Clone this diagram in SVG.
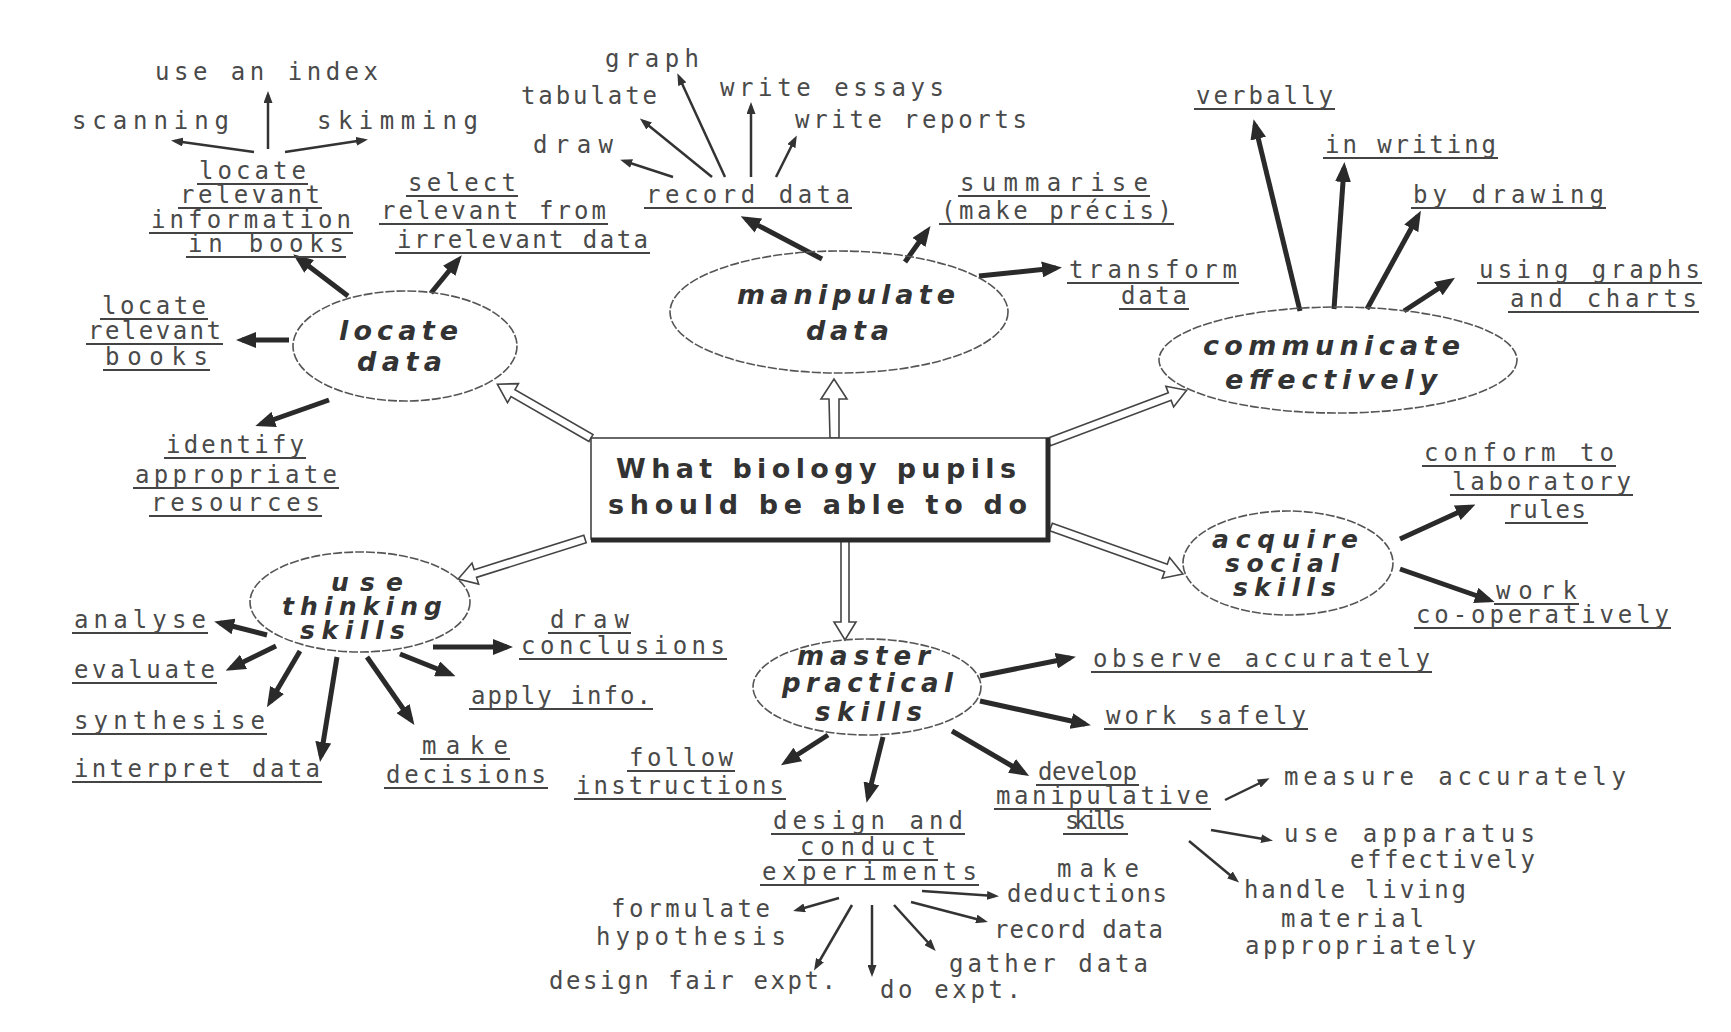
<svg xmlns="http://www.w3.org/2000/svg" width="1731" height="1032" viewBox="0 0 1731 1032">
<defs>
<style>
.l{font-family:"DejaVu Sans Mono","Liberation Mono",monospace;font-size:24px;fill:#4a4a4a;text-anchor:middle}
.e{font-family:"DejaVu Sans","Liberation Sans",sans-serif;font-size:27px;font-weight:bold;font-style:italic;fill:#333;text-anchor:middle}
.c{font-family:"DejaVu Sans","Liberation Sans",sans-serif;font-size:27px;font-weight:bold;fill:#333;text-anchor:middle}
.ell{fill:none;stroke:#555;stroke-width:1.6;stroke-dasharray:9 2}
.tk{stroke:#2a2a2a;stroke-width:5;fill:none;marker-end:url(#hb)}
.tn{stroke:#333;stroke-width:2.5;fill:none;marker-end:url(#ht)}
.ho{fill:#fff;stroke:#444;stroke-width:1.6}
.ul{stroke:#444;stroke-width:2;fill:none}
</style>
<marker id="hb" viewBox="0 0 20 16" markerWidth="20" markerHeight="16" refX="14" refY="8" orient="auto" markerUnits="userSpaceOnUse"><path d="M0,0 L20,8 L0,16 z" fill="#2a2a2a"/></marker>
<marker id="ht" viewBox="0 0 12 9" markerWidth="12" markerHeight="9" refX="8" refY="4.5" orient="auto" markerUnits="userSpaceOnUse"><path d="M0,0 L12,4.5 L0,9 z" fill="#333"/></marker>
</defs>
<rect width="1731" height="1032" fill="#fff"/>

<g id="connectors">
<polygon class="ho" points="0,-4 90,-4 90,-11 108,0 90,11 90,4 0,4" transform="translate(591,438) rotate(-150.1)"/>
<polygon class="ho" points="0,-4 39,-5 39,-13 59,0 39,13 39,5 0,5" transform="translate(834,438) rotate(-90)"/>
<polygon class="ho" points="0,-4 129,-4 129,-11 147,0 129,11 129,4 0,4" transform="translate(1049,442) rotate(-20.6)"/>
<polygon class="ho" points="0,-4 122,-4 122,-11 140,0 122,11 122,4 0,4" transform="translate(1051,527) rotate(19.6)"/>
<polygon class="ho" points="0,-4 83,-4 83,-11 101,0 83,11 83,4 0,4" transform="translate(845,539) rotate(90)"/>
<polygon class="ho" points="0,-4 115,-4 115,-11 133,0 115,11 115,4 0,4" transform="translate(585,539) rotate(162.5)"/>

<line class="tk" x1="348" y1="296" x2="298" y2="258"/>
<line class="tk" x1="431" y1="293" x2="458" y2="260"/>
<line class="tk" x1="289" y1="340" x2="242" y2="340"/>
<line class="tk" x1="329" y1="400" x2="261" y2="424"/>
<line class="tk" x1="822" y1="259" x2="746" y2="219"/>
<line class="tk" x1="905" y1="262" x2="927" y2="231"/>
<line class="tk" x1="979" y1="276" x2="1056" y2="268"/>
<line class="tk" x1="1300" y1="311" x2="1255" y2="125"/>
<line class="tk" x1="1334" y1="309" x2="1344" y2="168"/>
<line class="tk" x1="1367" y1="309" x2="1418" y2="216"/>
<line class="tk" x1="1404" y1="311" x2="1450" y2="281"/>
<line class="tk" x1="1400" y1="539" x2="1470" y2="507"/>
<line class="tk" x1="1400" y1="569" x2="1489" y2="600"/>
<line class="tk" x1="267" y1="635" x2="220" y2="623"/>
<line class="tk" x1="276" y1="646" x2="231" y2="668"/>
<line class="tk" x1="300" y1="651" x2="270" y2="702"/>
<line class="tk" x1="337" y1="657" x2="321" y2="756"/>
<line class="tk" x1="367" y1="657" x2="411" y2="720"/>
<line class="tk" x1="400" y1="654" x2="450" y2="674"/>
<line class="tk" x1="433" y1="647" x2="507" y2="647"/>
<line class="tk" x1="980" y1="676" x2="1070" y2="658"/>
<line class="tk" x1="980" y1="701" x2="1085" y2="724"/>
<line class="tk" x1="952" y1="731" x2="1024" y2="773"/>
<line class="tk" x1="883" y1="737" x2="868" y2="797"/>
<line class="tk" x1="828" y1="735" x2="786" y2="762"/>

<line class="tn" x1="268" y1="149" x2="268" y2="95"/>
<line class="tn" x1="254" y1="152" x2="175" y2="141"/>
<line class="tn" x1="285" y1="152" x2="364" y2="140"/>
<line class="tn" x1="673" y1="177" x2="624" y2="161"/>
<line class="tn" x1="712" y1="177" x2="643" y2="121"/>
<line class="tn" x1="725" y1="177" x2="679" y2="77"/>
<line class="tn" x1="751" y1="177" x2="751" y2="106"/>
<line class="tn" x1="776" y1="177" x2="795" y2="139"/>
<line class="tn" x1="1225" y1="800" x2="1266" y2="780"/>
<line class="tn" x1="1211" y1="830" x2="1269" y2="840"/>
<line class="tn" x1="1189" y1="841" x2="1236" y2="880"/>
<line class="tn" x1="839" y1="898" x2="797" y2="910"/>
<line class="tn" x1="852" y1="905" x2="816" y2="967"/>
<line class="tn" x1="872" y1="905" x2="872" y2="973"/>
<line class="tn" x1="894" y1="905" x2="933" y2="948"/>
<line class="tn" x1="911" y1="902" x2="984" y2="921"/>
<line class="tn" x1="922" y1="891" x2="995" y2="896"/>
</g>

<g id="center">
<rect x="591" y="438" width="456" height="101" fill="#fff" stroke="#444" stroke-width="1.6"/>
<line x1="1048" y1="438" x2="1048" y2="542" stroke="#2a2a2a" stroke-width="5"/>
<line x1="591" y1="540" x2="1050" y2="540" stroke="#2a2a2a" stroke-width="5"/>
<text class="c" x="816" y="478" textLength="400">What biology pupils</text>
<text class="c" x="817.5" y="514" textLength="419">should be able to do</text>
</g>

<g id="locate-data">
<ellipse class="ell" cx="405" cy="346" rx="112" ry="55"/>
<text class="e" x="398.5" y="340" textLength="119">locate</text>
<text class="e" x="399.5" y="371" textLength="85">data</text>
</g>
<g id="manipulate-data">
<ellipse class="ell" cx="839" cy="312" rx="169" ry="61"/>
<text class="e" x="846" y="304" textLength="218">manipulate</text>
<text class="e" x="847.5" y="340" textLength="83">data</text>
</g>
<g id="communicate">
<ellipse class="ell" cx="1338" cy="360" rx="179" ry="53"/>
<text class="e" x="1331.5" y="355" textLength="257">communicate</text>
<text class="e" x="1331" y="389" textLength="212">effectively</text>
</g>
<g id="acquire-social">
<ellipse class="ell" cx="1288" cy="563" rx="105" ry="52"/>
<text class="e" x="1285" y="548" textLength="146" style="font-size:25px">acquire</text>
<text class="e" x="1282" y="572" textLength="114" style="font-size:25px">social</text>
<text class="e" x="1284.5" y="596" textLength="103" style="font-size:25px">skills</text>
</g>
<g id="use-thinking">
<ellipse class="ell" cx="360" cy="602" rx="110" ry="50"/>
<text class="e" x="367" y="591" textLength="72" style="font-size:25px">use</text>
<text class="e" x="362" y="615" textLength="160" style="font-size:25px">thinking</text>
<text class="e" x="352.5" y="639" textLength="105" style="font-size:25px">skills</text>
</g>
<g id="master-practical">
<ellipse class="ell" cx="867" cy="687" rx="114" ry="48"/>
<text class="e" x="863.5" y="665" textLength="133" style="font-size:26px">master</text>
<text class="e" x="867.5" y="692" textLength="171" style="font-size:26px">practical</text>
<text class="e" x="868.5" y="721" textLength="107" style="font-size:26px">skills</text>
</g>

<g id="labels">
<path class="ul" d="M197,184H308 M178,208H322 M149,233H353 M186,257H346 M406,196H518 M379,224H608 M395,253H650 M100,319H208 M86,344H223 M103,370H210 M164,458H306 M133,488H339 M149,516H322 M644,208H852 M958,196H1150 M939,224H1174 M1067,283H1239 M1119,309H1189 M1194,109H1335 M1323,158H1498 M1411,208H1606 M1477,283H1702 M1508,312H1699 M1422,466H1616 M1450,495H1633 M1505,523H1588 M1494,604H1579 M1414,628H1671 M1091,672H1432 M1104,729H1308 M72,633H208 M72,683H217 M72,734H267 M72,782H322 M548,633H631 M519,659H727 M469,709H653 M420,759H510 M384,788H548 M627,771H735 M574,799H786 M771,834H965 M798,860H938 M760,885H979 M1036,785H1139 M994,809H1211 M1063,834H1128"/>
<text class="l" x="266.5" y="80" textLength="223">use an index</text>
<text class="l" x="150.5" y="129" textLength="157">scanning</text>
<text class="l" x="397.5" y="129" textLength="161">skimming</text>
<text class="l" x="252.5" y="179" textLength="107">locate</text>
<text class="l" x="250" y="203" textLength="140">relevant</text>
<text class="l" x="251" y="228" textLength="200">information</text>
<text class="l" x="266" y="252" textLength="156">in books</text>
<text class="l" x="462" y="191" textLength="108">select</text>
<text class="l" x="493.5" y="219" textLength="225">relevant from</text>
<text class="l" x="522.5" y="248" textLength="251">irrelevant data</text>
<text class="l" x="154" y="314" textLength="104">locate</text>
<text class="l" x="154.5" y="339" textLength="133">relevant</text>
<text class="l" x="156.5" y="365" textLength="103">books</text>
<text class="l" x="235" y="453" textLength="138">identify</text>
<text class="l" x="236" y="483" textLength="202">appropriate</text>
<text class="l" x="235.5" y="511" textLength="169">resources</text>
<text class="l" x="652" y="67" textLength="94">graph</text>
<text class="l" x="589" y="104" textLength="136">tabulate</text>
<text class="l" x="832" y="96" textLength="224">write essays</text>
<text class="l" x="911" y="128" textLength="232">write reports</text>
<text class="l" x="573" y="153" textLength="80">draw</text>
<text class="l" x="748" y="203" textLength="204">record data</text>
<text class="l" x="1054" y="191" textLength="188">summarise</text>
<text class="l" x="1056.5" y="219" textLength="231">(make précis)</text>
<text class="l" x="1153" y="278" textLength="168">transform</text>
<text class="l" x="1154" y="304" textLength="66">data</text>
<text class="l" x="1264.5" y="104" textLength="137">verbally</text>
<text class="l" x="1410.5" y="153" textLength="171">in writing</text>
<text class="l" x="1508.5" y="203" textLength="191">by drawing</text>
<text class="l" x="1589.5" y="278" textLength="221">using graphs</text>
<text class="l" x="1603.5" y="307" textLength="187">and charts</text>
<text class="l" x="1519" y="461" textLength="190">conform to</text>
<text class="l" x="1541.5" y="490" textLength="179">laboratory</text>
<text class="l" x="1546.5" y="518" textLength="79">rules</text>
<text class="l" x="1536.5" y="599" textLength="81">work</text>
<text class="l" x="1542.5" y="623" textLength="253">co-operatively</text>
<text class="l" x="1261.5" y="667" textLength="337">observe accurately</text>
<text class="l" x="1206" y="724" textLength="200">work safely</text>
<text class="l" x="140" y="628" textLength="132">analyse</text>
<text class="l" x="144.5" y="678" textLength="141">evaluate</text>
<text class="l" x="169.5" y="729" textLength="191">synthesise</text>
<text class="l" x="197" y="777" textLength="246">interpret data</text>
<text class="l" x="589.5" y="628" textLength="79">draw</text>
<text class="l" x="623" y="654" textLength="204">conclusions</text>
<text class="l" x="561" y="704" textLength="180">apply info.</text>
<text class="l" x="465" y="754" textLength="86">make</text>
<text class="l" x="466" y="783" textLength="160">decisions</text>
<text class="l" x="681" y="766" textLength="104">follow</text>
<text class="l" x="680" y="794" textLength="208">instructions</text>
<text class="l" x="868" y="829" textLength="190">design and</text>
<text class="l" x="868" y="855" textLength="136">conduct</text>
<text class="l" x="869.5" y="880" textLength="215">experiments</text>
<text class="l" x="1087.5" y="780" textLength="99">develop</text>
<text class="l" x="1102.5" y="804" textLength="213">manipulative</text>
<text class="l" x="1095.5" y="829" textLength="61">skills</text>
<text class="l" x="1455" y="785" textLength="342">measure accurately</text>
<text class="l" x="1409.5" y="842" textLength="251">use apparatus</text>
<text class="l" x="1442.5" y="868" textLength="185">effectively</text>
<text class="l" x="1355" y="898" textLength="222">handle living</text>
<text class="l" x="1352.5" y="927" textLength="143">material</text>
<text class="l" x="1360.5" y="954" textLength="231">appropriately</text>
<text class="l" x="1098" y="877" textLength="82">make</text>
<text class="l" x="1087" y="902" textLength="160">deductions</text>
<text class="l" x="1078.5" y="938" textLength="169">record data</text>
<text class="l" x="1048.5" y="972" textLength="199">gather data</text>
<text class="l" x="690.5" y="917" textLength="159">formulate</text>
<text class="l" x="691" y="945" textLength="190">hypothesis</text>
<text class="l" x="692.5" y="989" textLength="287">design fair expt.</text>
<text class="l" x="950.5" y="998" textLength="141">do expt.</text>
</g>
</svg>
